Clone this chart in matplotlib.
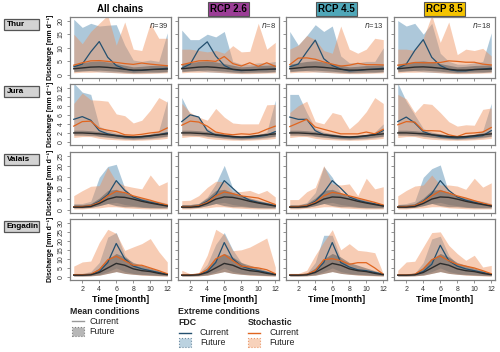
import matplotlib
matplotlib.use('Agg')
import matplotlib.pyplot as plt
from matplotlib.patches import Rectangle
from matplotlib.lines import Line2D

plt.rcParams['font.family'] = ['Liberation Sans', 'DejaVu Sans']

months = list(range(1, 13))
columns = ['All chains', 'RCP 2.6', 'RCP 4.5', 'RCP 8.5']
column_colors = [None, '#9B3D96', '#4FA7B9', '#F5C400']
n_chains = [39, 8, 13, 18]
regions = ['Thur', 'Jura', 'Valais', 'Engadin']
y_ticks = [[0, 5, 10, 15, 20], [0, 2, 4, 6, 8, 10, 12], [0, 5, 10, 15, 20, 25], [0, 5, 10, 15, 20, 25, 30]]
x_ticks = [2, 4, 6, 8, 10, 12]

# ---------------- Thur ----------------
thur_mean_cur = [2.3, 2.6, 2.9, 3.0, 2.8, 2.5, 2.1, 1.8, 1.8, 2.0, 2.1, 2.2]
thur_mean_lo = [1.2, 1.5, 1.7, 1.8, 1.6, 1.4, 1.1, 0.9, 1.0, 1.1, 1.1, 1.2]
thur_mean_hi = [4.0, 4.5, 5.0, 5.2, 4.8, 4.2, 3.6, 3.0, 3.2, 3.5, 3.6, 3.8]
thur_fdc_lo = [1.5, 1.5, 1.5, 1.2, 1.0, 0.9, 0.8, 0.6, 0.7, 0.8, 0.9, 1.2]
thur_stoch_lo = [0.8, 1.0, 1.0, 1.1, 1.0, 0.8, 0.6, 0.5, 0.5, 0.6, 0.7, 0.8]
thur_fdc_cur = [
    [3.0, 4.0, 8.5, 12.3, 6.5, 3.5, 2.2, 1.6, 1.7, 2.0, 2.2, 2.5],
    [2.5, 4.0, 9.5, 12.2, 7.0, 3.5, 2.0, 1.6, 1.8, 2.0, 2.0, 2.2],
    [3.0, 4.0, 8.5, 12.8, 6.0, 3.5, 2.2, 1.5, 1.7, 2.0, 2.2, 2.5],
    [2.5, 4.0, 9.0, 13.0, 6.5, 3.5, 2.0, 1.5, 1.5, 2.0, 2.2, 2.5]]
thur_fdc_hi = [
    [20.5, 17.5, 19.0, 18.0, 18.3, 18.5, 11.0, 5.5, 5.0, 5.5, 5.0, 15.5],
    [16.5, 13.0, 13.0, 15.0, 14.0, 16.0, 5.0, 4.0, 4.0, 4.5, 4.5, 5.0],
    [16.0, 11.0, 14.5, 18.5, 16.0, 18.0, 7.0, 4.5, 4.5, 5.0, 5.0, 10.0],
    [20.0, 18.0, 19.0, 15.0, 19.0, 8.0, 5.0, 4.0, 4.0, 4.5, 5.0, 15.5]]
thur_stoch_hi = [
    [15.0, 11.5, 16.0, 19.0, 22.0, 11.0, 19.5, 9.5, 9.0, 19.0, 13.5, 13.5],
    [9.5, 9.5, 9.0, 8.5, 9.0, 8.0, 10.8, 8.5, 8.7, 19.0, 9.5, 12.0],
    [9.5, 11.0, 14.5, 13.0, 9.0, 8.0, 18.0, 9.5, 8.0, 9.5, 13.5, 13.0],
    [9.5, 9.5, 9.0, 13.5, 22.0, 12.0, 19.5, 7.5, 9.5, 9.0, 9.8, 7.0]]
thur_stoch_cur = [
    [3.6, 4.5, 5.2, 5.3, 5.0, 4.6, 4.2, 3.9, 4.4, 4.0, 3.7, 3.4],
    [3.8, 4.5, 5.2, 5.3, 5.0, 6.8, 4.2, 3.3, 4.5, 3.2, 4.5, 3.2],
    [3.8, 6.2, 6.3, 5.8, 4.8, 4.0, 3.3, 3.6, 4.3, 3.8, 3.8, 3.7],
    [3.6, 4.0, 4.6, 4.5, 4.5, 4.6, 5.2, 5.0, 4.7, 4.7, 4.0, 3.7]]

# ---------------- Jura ----------------
jura_mean_cur = [2.0, 2.0, 1.9, 1.8, 1.6, 1.4, 1.2, 1.1, 1.2, 1.4, 1.6, 1.8]
jura_mean_lo = [1.5, 1.5, 1.4, 1.3, 1.1, 0.9, 0.8, 0.7, 0.8, 0.9, 1.1, 1.3]
jura_mean_hi = [2.6, 2.6, 2.5, 2.3, 2.0, 1.8, 1.5, 1.4, 1.5, 1.7, 2.0, 2.3]
jura_fdc_lo = [2.0, 2.2, 2.0, 1.2, 1.0, 0.8, 0.6, 0.5, 0.6, 0.7, 0.9, 1.2]
jura_stoch_lo = [1.0, 1.2, 1.2, 0.8, 0.6, 0.5, 0.4, 0.4, 0.4, 0.5, 0.6, 0.8]
jura_fdc_cur = [
    [5.0, 5.6, 4.8, 2.5, 1.8, 1.4, 1.1, 1.0, 1.1, 1.3, 1.6, 2.0],
    [4.5, 6.0, 5.5, 2.5, 1.5, 1.3, 1.1, 1.0, 1.0, 1.2, 1.5, 2.3],
    [5.5, 5.0, 5.0, 2.5, 1.6, 1.3, 1.1, 1.0, 1.1, 1.3, 1.6, 2.5],
    [4.5, 5.5, 4.2, 2.3, 1.6, 1.2, 1.0, 0.9, 1.0, 1.2, 1.4, 2.5]]
jura_fdc_hi = [
    [13.0, 11.0, 10.5, 3.5, 2.5, 2.0, 1.6, 1.4, 1.5, 1.8, 2.5, 9.2],
    [9.8, 6.0, 5.5, 3.0, 2.2, 1.8, 1.5, 1.3, 1.4, 1.6, 2.2, 9.2],
    [10.5, 10.5, 6.5, 3.0, 2.2, 1.8, 1.5, 1.3, 1.4, 1.6, 2.2, 4.0],
    [13.0, 9.0, 6.0, 3.0, 2.2, 1.8, 1.5, 1.3, 1.4, 1.6, 2.5, 8.5]]
jura_stoch_hi = [
    [8.5, 10.8, 9.3, 9.2, 9.0, 6.2, 5.8, 4.2, 4.8, 7.0, 9.8, 8.8],
    [8.5, 6.5, 5.5, 4.8, 7.4, 5.5, 4.2, 4.0, 4.0, 4.0, 8.2, 8.3],
    [6.5, 8.0, 9.0, 4.5, 4.0, 6.5, 6.0, 2.9, 4.5, 6.7, 9.8, 8.5],
    [10.5, 9.5, 6.5, 8.5, 8.3, 6.5, 4.5, 3.5, 3.8, 3.7, 7.2, 7.5]]
jura_stoch_cur = [
    [3.5, 4.5, 4.6, 3.0, 2.6, 2.3, 1.6, 1.5, 1.7, 2.0, 2.2, 3.1],
    [3.7, 4.6, 4.4, 3.5, 2.2, 1.8, 1.6, 1.8, 1.7, 2.0, 2.8, 3.5],
    [3.4, 4.2, 5.0, 3.3, 2.8, 2.3, 1.8, 1.8, 1.8, 2.2, 1.8, 2.8],
    [3.8, 4.5, 4.4, 2.5, 2.5, 2.4, 1.6, 1.2, 1.9, 2.0, 2.2, 3.2]]

# ---------------- Valais ----------------
valais_mean_cur = [1.3, 1.3, 1.6, 3.0, 5.0, 6.0, 5.8, 5.0, 4.0, 3.2, 2.5, 1.8]
valais_mean_lo = [1.0, 1.0, 1.2, 2.0, 3.0, 2.0, 1.5, 1.5, 1.2, 1.0, 1.0, 1.0]
valais_mean_hi = [2.5, 2.5, 3.0, 5.5, 9.0, 9.5, 8.0, 6.5, 5.5, 4.5, 3.5, 2.5]
valais_fdc_lo = [1.0, 1.0, 1.2, 2.0, 3.0, 3.5, 2.5, 2.0, 1.5, 1.2, 1.0, 1.0]
valais_stoch_lo = [0.5, 0.5, 0.8, 1.0, 1.5, 1.5, 1.0, 0.8, 0.6, 0.5, 0.5, 0.5]
valais_fdc_cur = [
    [1.5, 1.5, 2.0, 4.0, 7.0, 13.5, 9.0, 6.0, 4.5, 3.5, 2.8, 2.0],
    [1.5, 1.5, 2.0, 4.0, 7.0, 13.5, 10.0, 6.5, 4.5, 3.5, 2.8, 2.0],
    [1.5, 1.5, 2.0, 4.0, 8.0, 13.5, 10.0, 6.0, 4.5, 3.5, 2.8, 2.0],
    [1.5, 1.5, 2.0, 4.0, 7.5, 13.5, 9.0, 6.0, 4.5, 3.5, 2.8, 2.0]]
valais_fdc_hi = [
    [3.0, 3.0, 4.0, 15.0, 20.0, 21.0, 10.0, 6.0, 5.0, 4.5, 4.0, 3.0],
    [2.5, 2.5, 3.0, 6.0, 12.0, 20.5, 10.0, 6.0, 5.0, 4.0, 3.5, 3.0],
    [2.0, 2.0, 3.5, 8.0, 20.0, 15.0, 8.0, 5.5, 4.5, 4.0, 3.2, 2.5],
    [2.5, 3.0, 4.0, 15.0, 19.0, 20.7, 8.0, 6.0, 5.0, 4.5, 4.0, 3.0]]
valais_stoch_hi = [
    [6.6, 8.9, 10.9, 11.2, 19.6, 13.0, 11.2, 10.4, 9.7, 16.1, 11.2, 13.0],
    [4.3, 4.5, 6.6, 10.4, 13.2, 13.0, 8.5, 8.5, 9.0, 7.5, 9.0, 6.0],
    [4.8, 4.8, 8.4, 10.4, 20.4, 12.0, 11.5, 12.0, 6.6, 14.6, 9.7, 10.7],
    [6.5, 9.0, 11.0, 11.5, 16.1, 11.5, 11.5, 11.0, 9.5, 14.6, 10.5, 12.5]]
valais_stoch_cur = [
    [1.5, 1.6, 2.0, 3.5, 6.5, 8.6, 8.0, 6.5, 5.5, 4.5, 3.3, 2.3],
    [1.5, 1.5, 2.0, 3.5, 6.5, 8.3, 7.5, 6.5, 6.0, 5.5, 4.0, 2.5],
    [1.5, 1.6, 2.0, 3.5, 6.5, 8.1, 7.5, 6.5, 5.5, 4.5, 3.5, 2.3],
    [1.5, 1.6, 2.0, 3.8, 6.5, 8.8, 7.8, 6.5, 5.5, 4.3, 3.2, 2.2]]

# ---------------- Engadin ----------------
engadin_mean_cur = [1.0, 1.0, 1.2, 2.5, 5.0, 7.5, 6.5, 4.5, 3.5, 3.0, 2.0, 1.3]
engadin_mean_lo = [0.6, 0.6, 0.7, 1.0, 2.0, 3.0, 2.0, 1.5, 1.2, 1.0, 0.8, 0.6]
engadin_mean_hi = [1.5, 1.5, 2.0, 5.0, 10.0, 13.0, 11.0, 8.0, 6.5, 5.0, 3.5, 2.0]
engadin_fdc_lo = [0.6, 0.6, 0.8, 1.5, 3.0, 5.0, 3.0, 2.0, 1.5, 1.2, 1.0, 0.8]
engadin_stoch_lo = [0.5, 0.5, 0.6, 1.0, 2.0, 3.0, 2.0, 1.5, 1.0, 0.8, 0.6, 0.5]
engadin_fdc_cur = [
    [1.2, 1.2, 1.5, 3.0, 8.0, 18.5, 10.0, 6.0, 4.5, 3.5, 2.5, 1.5],
    [1.0, 1.0, 1.5, 3.0, 8.0, 19.0, 10.0, 6.0, 4.5, 3.5, 2.5, 1.5],
    [1.0, 1.0, 1.5, 3.0, 8.0, 19.0, 8.0, 5.5, 4.0, 3.5, 2.5, 1.5],
    [1.0, 1.0, 1.5, 3.0, 7.0, 17.5, 9.0, 6.0, 4.5, 3.5, 2.5, 1.5]]
engadin_fdc_hi = [
    [2.0, 2.0, 3.0, 8.0, 22.0, 24.5, 12.0, 7.0, 5.0, 4.0, 3.0, 2.0],
    [1.5, 1.5, 2.0, 7.0, 18.0, 24.5, 15.0, 8.0, 5.0, 4.0, 3.0, 2.0],
    [1.5, 1.5, 2.0, 8.0, 23.0, 23.0, 10.0, 6.0, 4.0, 3.5, 3.0, 2.0],
    [1.5, 1.5, 2.0, 8.0, 21.0, 22.5, 12.0, 7.0, 5.0, 4.0, 3.0, 2.0]]
engadin_stoch_hi = [
    [6.0, 8.3, 8.8, 19.0, 26.3, 24.0, 14.7, 16.6, 18.4, 21.2, 14.0, 8.3],
    [3.7, 1.8, 2.5, 12.0, 26.3, 23.4, 14.5, 15.0, 16.5, 19.0, 21.5, 5.5],
    [2.0, 2.0, 3.7, 12.0, 19.3, 26.1, 15.0, 18.4, 14.7, 14.2, 13.4, 1.8],
    [3.7, 8.3, 8.7, 16.6, 24.5, 24.9, 17.5, 12.9, 9.2, 12.0, 5.5, 6.4]]
engadin_stoch_cur = [
    [1.3, 1.3, 1.5, 4.0, 9.5, 11.4, 9.0, 6.5, 6.5, 5.0, 3.5, 1.8],
    [1.2, 1.2, 1.5, 4.0, 10.0, 12.3, 9.0, 6.0, 5.5, 5.0, 4.0, 1.8],
    [1.2, 1.2, 1.5, 3.5, 9.5, 10.1, 9.0, 7.0, 7.9, 7.9, 5.0, 1.5],
    [1.2, 1.2, 1.5, 4.5, 9.5, 11.6, 9.0, 7.0, 6.0, 5.0, 3.5, 1.8]]

rows = [
    (thur_mean_cur, thur_mean_lo, thur_mean_hi, thur_fdc_lo, thur_fdc_hi, thur_fdc_cur,
     thur_stoch_lo, thur_stoch_hi, thur_stoch_cur),
    (jura_mean_cur, jura_mean_lo, jura_mean_hi, jura_fdc_lo, jura_fdc_hi, jura_fdc_cur,
     jura_stoch_lo, jura_stoch_hi, jura_stoch_cur),
    (valais_mean_cur, valais_mean_lo, valais_mean_hi, valais_fdc_lo, valais_fdc_hi, valais_fdc_cur,
     valais_stoch_lo, valais_stoch_hi, valais_stoch_cur),
    (engadin_mean_cur, engadin_mean_lo, engadin_mean_hi, engadin_fdc_lo, engadin_fdc_hi, engadin_fdc_cur,
     engadin_stoch_lo, engadin_stoch_hi, engadin_stoch_cur),
]

# ---------------- styling ----------------
W, H = 500, 352
fig = plt.figure(figsize=(W / 100, H / 100), dpi=100)

FDC_FILL = '#4A86AE'
STOCH_FILL = '#EE8F5A'
MEAN_FILL = '#4d4d4d'
FDC_LINE = '#24506f'
STOCH_LINE = '#E0651F'
MEAN_LINE = '#2b2b2b'
FRAME = '#808080'

lefts = [70, 178, 286, 394]
tops = [17, 84, 152, 219]
aw, ah = 101, 61


def rect(l, t, w, h):
    return [l / W, 1 - (t + h) / H, w / W, h / H]


for r in range(4):
    (mean_cur, mean_lo, mean_hi, fdc_lo, fdc_hi, fdc_cur,
     stoch_lo, stoch_hi, stoch_cur) = rows[r]
    top_val = max(y_ticks[r])
    for c in range(4):
        ax = fig.add_axes(rect(lefts[c], tops[r], aw, ah))
        ax.fill_between(months, fdc_lo, fdc_hi[c], color=FDC_FILL, alpha=0.45, lw=0)
        ax.fill_between(months, stoch_lo, stoch_hi[c], color=STOCH_FILL, alpha=0.45, lw=0)
        ax.fill_between(months, mean_lo, mean_hi, color=MEAN_FILL, alpha=0.45, lw=0)
        ax.plot(months, fdc_cur[c], color=FDC_LINE, lw=0.9)
        ax.plot(months, stoch_cur[c], color=STOCH_LINE, lw=0.9)
        ax.plot(months, mean_cur, color=MEAN_LINE, lw=1.0)
        pad_y = top_val * 0.055
        ax.set_ylim(-pad_y, top_val + pad_y * 1.2)
        ax.set_xlim(0.56, 12.44)
        ax.set_yticks(y_ticks[r])
        ax.set_xticks(x_ticks)
        for s in ax.spines.values():
            s.set_color(FRAME)
            s.set_linewidth(0.9)
        ax.tick_params(direction='out', length=2.5, width=0.6, color=FRAME,
                       labelsize=5, labelcolor='#333333', pad=1.5)
        ax.tick_params(axis='y', labelrotation=90)
        for lab in ax.get_yticklabels():
            lab.set_va('center')
        if c > 0:
            ax.set_yticklabels([])
        else:
            ax.set_ylabel('Discharge [mm d⁻¹]', fontsize=5, fontweight='bold', labelpad=2.5)
        if r < 3:
            ax.set_xticklabels([])
        else:
            ax.set_xlabel('Time [month]', fontsize=6.5, fontweight='bold', labelpad=1.5)
        if r == 0:
            ax.text(0.97, 0.93, r'$n$=' + str(n_chains[c]), transform=ax.transAxes,
                    ha='right', va='top', fontsize=5.5, color='#333333')

# row labels
for r, name in enumerate(regions):
    t = tops[r] + 2
    fig.patches.append(Rectangle((4 / W, 1 - (t + 11) / H), 35 / W, 11 / H,
                                 transform=fig.transFigure, facecolor='#d3d3d3',
                                 edgecolor='#555555', lw=0.9))
    fig.text(6.5 / W, 1 - (t + 5.7) / H, name, fontsize=5.9, fontweight='bold',
             ha='left', va='center')

# column titles
for c, name in enumerate(columns):
    cx = (lefts[c] + aw / 2) / W
    if column_colors[c] is None:
        fig.text(cx, 1 - 9 / H, name, fontsize=7, fontweight='bold', ha='center', va='center')
    else:
        fig.text(cx, 1 - 9 / H, name, fontsize=7, fontweight='bold', ha='center', va='center',
                 bbox=dict(boxstyle='square,pad=0.25', facecolor=column_colors[c],
                           edgecolor='#555555', lw=0.8))

# legend
def ftxt(x, y, s, bold=False):
    fig.text(x / W, 1 - y / H, s, fontsize=6.3,
             fontweight='bold' if bold else 'normal', ha='left', va='center', color='#222222')


def fline(x0, x1, y, color):
    fig.lines.append(Line2D([x0 / W, x1 / W], [1 - y / H, 1 - y / H], transform=fig.transFigure,
                            color=color, lw=1.0))


def fbox(x, y, w, h, color, edge):
    fig.patches.append(Rectangle((x / W, 1 - (y + h) / H), w / W, h / H, transform=fig.transFigure,
                                 facecolor=color, alpha=0.6, edgecolor=edge, lw=0.8, ls=':'))


ftxt(70, 311, 'Mean conditions', bold=True)
fline(72, 84, 321, '#999999')
ftxt(89, 321, 'Current')
fbox(72, 326.5, 12, 9, '#888888', '#444444')
ftxt(89, 331, 'Future')

ftxt(178, 311, 'Extreme conditions', bold=True)
ftxt(178, 322.5, 'FDC', bold=True)
fline(179, 191, 332.5, FDC_LINE)
ftxt(200, 332.5, 'Current')
fbox(179, 338, 12, 9, '#8fb4cc', '#24506f')
ftxt(200, 342.5, 'Future')

ftxt(248, 322.5, 'Stochastic', bold=True)
fline(248, 260, 332.5, STOCH_LINE)
ftxt(269, 332.5, 'Current')
fbox(248, 338, 12, 9, '#f3b48e', '#E0651F')
ftxt(269, 342.5, 'Future')

fig.savefig('out.png', dpi=100)
